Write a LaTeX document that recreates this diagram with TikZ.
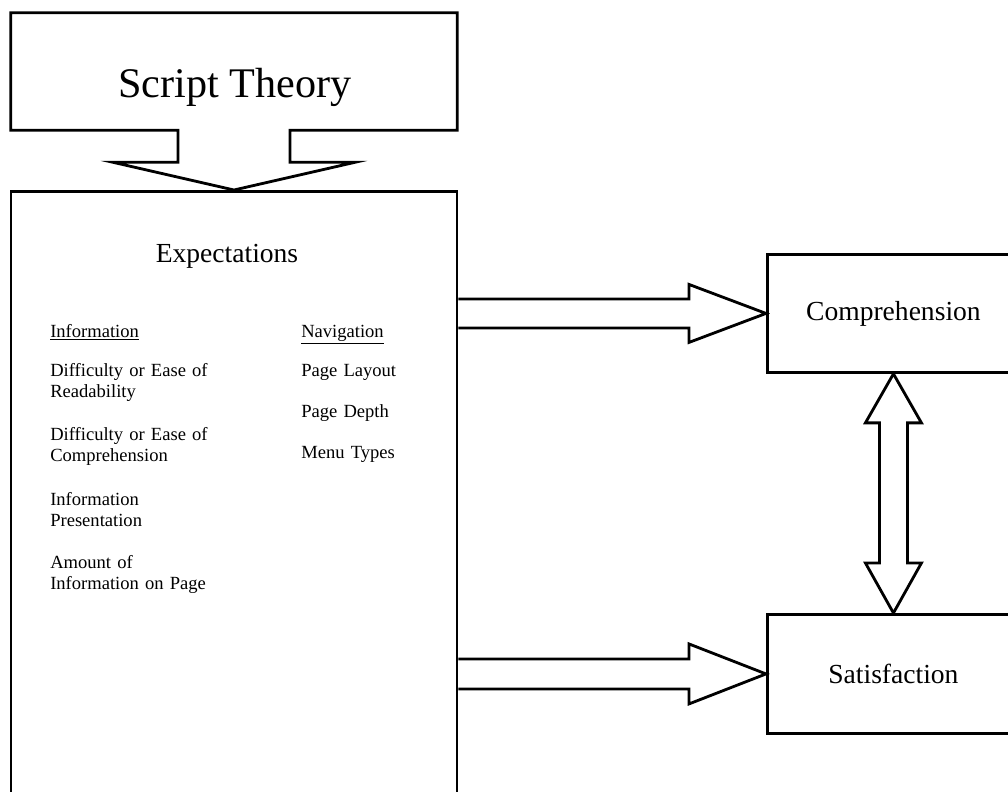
\documentclass[tikz,border=0pt]{standalone}
\usepackage{fontspec}
\setmainfont{Liberation Serif}
\usetikzlibrary{calc,positioning}
\tikzset{
  outline/.style={draw=black, line width=2pt, line join=miter},
  bigbox/.style={outline, rectangle, inner sep=0pt},
  titletext/.style={font=\fontsize{30}{36}\selectfont},
  headtext/.style={font=\fontsize{19.6}{23}\selectfont},
  listtext/.style={
    font=\fontsize{13.2}{15.4}\selectfont, text width=5.4cm,
    align=left, anchor=base west, inner sep=0pt
  }
}

\begin{document}
\begin{tikzpicture}[x=0.025cm, y=-0.025cm]
  \useasboundingbox (0,0) rectangle (1008,791);
  \clip (0,0) rectangle (1008,791);

  % boxes
  \node[minimum width=11.15cm, minimum height=2.925cm, inner sep=0pt] (theory) at (234,71.5) {};
  \node[titletext, anchor=base] (theorytxt) at (235,97) {Script Theory};
  \node[bigbox, minimum width=11.15cm, minimum height=16cm, anchor=north] (exp) at (234,190) {};
  \node[headtext, anchor=base] (exptitle) at (227,262) {Expectations};
  \node[bigbox, headtext, minimum width=6.3cm, minimum height=2.95cm, anchor=north west] (comp) at (766,253) {Comprehension};
  \node[bigbox, headtext, minimum width=6.3cm, minimum height=2.975cm, anchor=north west] (sat) at (766,613) {Satisfaction};

  % callout round the theory box
  \draw[outline] (theory.north west) -- (theory.north east) -- (theory.south east)
    -- ($(theory.south)+(56,0)$) -- ++(0,32) -- ++(65,0) -- (exp.north)
    -- ($(theory.south)+(-121,32)$) -- ++(65,0) -- ++(0,-32)
    -- (theory.south west) -- cycle;

  % information column
  \node[listtext] (infohead) at (50,337) {\underline{Information}};
  \node[listtext] (info1) at (50,376) {Difficulty or Ease of\\Readability};
  \node[listtext] (info2) at (50,440) {Difficulty or Ease of\\Comprehension};
  \node[listtext] (info3) at (50,505) {Information\\Presentation};
  \node[listtext] (info4) at (50,568) {Amount of\\Information on Page};

  % navigation column
  \node[listtext, text width=3.5cm] (navhead) at (301,337) {\underline{Navigation}};
  \node[listtext, text width=3.5cm] (nav1) at (301,376) {Page Layout};
  \node[listtext, text width=3.5cm] (nav2) at (301,417) {Page Depth};
  \node[listtext, text width=3.5cm] (nav3) at (301,458) {Menu Types};

  % block arrows
  \draw[outline] ($(exp.east |- comp.west)+(0,-14.5)$) -- ($(comp.west)+(-77,-14.5)$)
    -- ++(0,-14.5) -- (comp.west) -- ($(comp.west)+(-77,29)$) -- ++(0,-14.5)
    -- ($(exp.east |- comp.west)+(0,14.5)$);
  \draw[outline] ($(exp.east |- sat.west)+(0,-15)$) -- ($(sat.west)+(-77,-15)$)
    -- ++(0,-15) -- (sat.west) -- ($(sat.west)+(-77,30)$) -- ++(0,-15)
    -- ($(exp.east |- sat.west)+(0,15)$);
  \draw[outline] (comp.south) -- ++(28,49) -- ++(-14,0) -- ($(sat.north)+(14,-50)$)
    -- ++(14,0) -- (sat.north) -- ++(-28,-50) -- ++(14,0)
    -- ($(comp.south)+(-14,49)$) -- ++(-14,0) -- cycle;
\end{tikzpicture}
\end{document}
